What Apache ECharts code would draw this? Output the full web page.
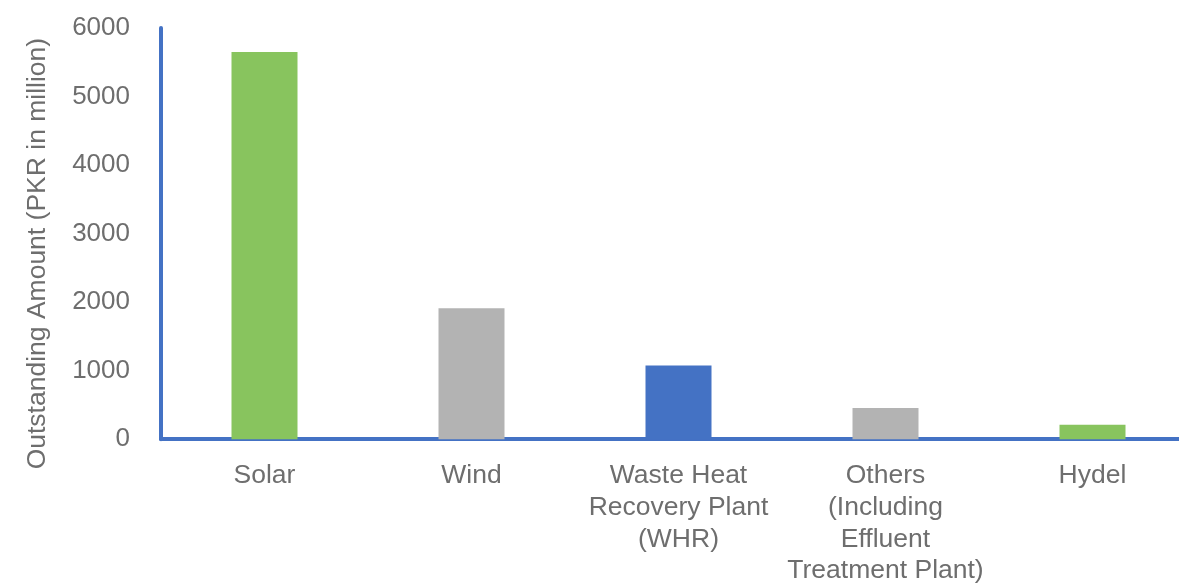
<!DOCTYPE html>
<html>
<head>
<meta charset="utf-8">
<script src="https://cdn.jsdelivr.net/npm/echarts@6/dist/echarts.min.js"></script>
<style>
  html, body { margin: 0; padding: 0; background: #ffffff; overflow: hidden; width: 1179px; height: 587px; }
  #frame { position: relative; width: 1179px; height: 587px; overflow: hidden; }
  /* the x axis runs off the right edge of the frame */
  #chart { position: absolute; left: 0; top: 0; width: 1196px; height: 587px; }
</style>
</head>
<body>
<div id="frame"><div id="chart"></div></div>
<script>
// Outstanding amounts by renewable technology (PKR in million)
const categories = [
  'Solar',
  'Wind',
  'Waste Heat\nRecovery Plant\n(WHR)',
  'Others\n(Including\nEffluent\nTreatment Plant)',
  'Hydel'
];
const outstanding = [5650, 1910, 1075, 455, 210];
const yTicks = [0, 1000, 2000, 3000, 4000, 5000, 6000];

// one fill per bar
const barColors = ['#88c45e', '#b3b3b3', '#4472c4', '#b3b3b3', '#88c45e'];

const textGrey = '#6e6e6e';
const fontFamily = '"Liberation Sans", Arial, sans-serif';

const chart = echarts.init(document.getElementById('chart'), null, { renderer: 'canvas' });

chart.setOption({
  backgroundColor: '#ffffff',
  animation: false,
  grid: { left: 161, top: 28, right: 0, bottom: 144, containLabel: false },
  xAxis: {
    type: 'category',
    data: categories,
    axisLine: { show: true, lineStyle: { color: '#4472c4', width: 4 } },
    axisTick: { show: false },
    axisLabel: {
      color: textGrey,
      fontFamily: fontFamily,
      fontSize: 26.5,
      lineHeight: 31.7,
      margin: 21,
      interval: 0
    }
  },
  yAxis: {
    type: 'value',
    min: yTicks[0],
    max: yTicks[yTicks.length - 1],
    interval: 1000,
    name: 'Outstanding Amount (PKR in million)',
    nameLocation: 'middle',
    nameGap: 110,
    nameTextStyle: {
      color: textGrey,
      fontFamily: fontFamily,
      fontSize: 26.5,
      padding: [0, 40, 0, 0]
    },
    axisLine: { show: true, lineStyle: { color: '#4472c4', width: 4 } },
    axisTick: { show: false },
    splitLine: { show: false },
    axisLabel: {
      color: textGrey,
      fontFamily: fontFamily,
      fontSize: 26,
      margin: 31,
      formatter: (v) => String(v)
    }
  },
  series: [{
    type: 'bar',
    barWidth: 66,
    data: outstanding.map((v, i) => ({ value: v, itemStyle: { color: barColors[i] } })),
    z: 1
  }]
});
</script>
</body>
</html>
